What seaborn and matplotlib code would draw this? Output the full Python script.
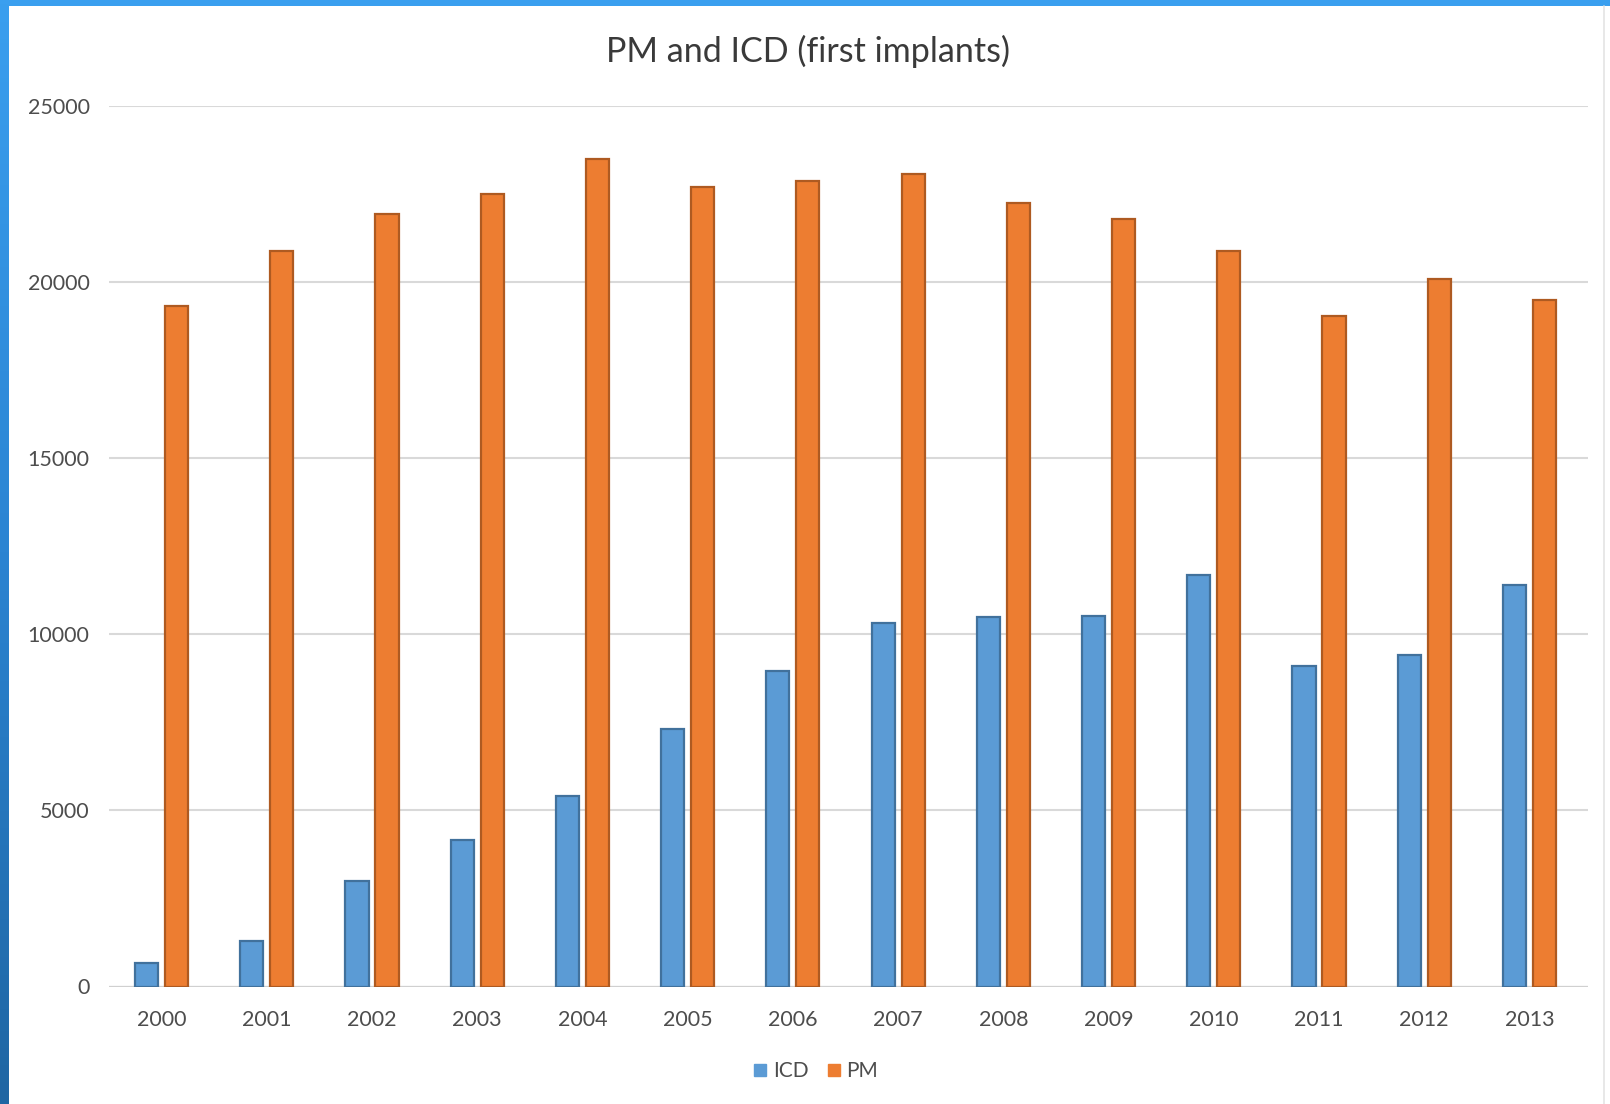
import matplotlib
matplotlib.use("Agg")
import matplotlib.pyplot as plt
from matplotlib.lines import Line2D
import numpy as np
import pandas as pd
import seaborn as sns

# Data: first implants per year
years = ["2000", "2001", "2002", "2003", "2004", "2005", "2006",
         "2007", "2008", "2009", "2010", "2011", "2012", "2013"]
icd = [660, 1280, 3000, 4170, 5400, 7310, 8970,
       10310, 10490, 10520, 11670, 9090, 9400, 11390]
pm = [19320, 20880, 21920, 22510, 23500, 22710, 22860,
      23080, 22250, 21800, 20880, 19030, 20080, 19480]
series = ["ICD", "PM"]
y_ticks = [0, 5000, 10000, 15000, 20000, 25000]
title = "PM and ICD (first implants)"

colors = {"ICD": "#5B9BD5", "PM": "#ED7D31"}
edges = {"ICD": "#41719C", "PM": "#AE5A21"}
text_color = "#4D4D4D"

df = pd.DataFrame({
    "year": years * 2,
    "value": icd + pm,
    "series": ["ICD"] * len(years) + ["PM"] * len(years),
})

sns.set_theme(style="white")
plt.rcParams["font.family"] = ["Lato", "DejaVu Sans"]

W, H = 1610, 1104
fig = plt.figure(figsize=(W / 100, H / 100), dpi=100)
fig.patch.set_facecolor("white")

# plot area: 14 category slots from x=109 to x=1582, gridlines run a little further
slot = (1582 - 109) / len(years)
ax_right = 1588
ax = fig.add_axes([109 / W, 1 - 986.5 / H, (ax_right - 109) / W, (986.5 - 106) / H])
sns.barplot(data=df, x="year", y="value", hue="series", hue_order=series,
            palette=colors, width=0.57, gap=0.23, linewidth=1.6,
            saturation=1, ax=ax, zorder=3)

for cont, name in zip(ax.containers, series):
    for patch in cont:
        patch.set_edgecolor(edges[name])

ax.set_ylim(0, 25000)
ax.set_xlim(-0.5, len(years) - 0.5 + (ax_right - 1582) / slot)
ax.set_yticks(y_ticks)
ax.set_yticklabels([str(t) for t in y_ticks])
ax.yaxis.grid(True, color="#D9D9D9", linewidth=1.5, zorder=0)
ax.set_axisbelow(True)
for s in ax.spines.values():
    s.set_visible(False)
ax.axhline(0, color="#D0D0D0", linewidth=1.6, zorder=2)
ax.set_xlabel("")
ax.set_ylabel("")
ax.tick_params(axis="y", length=0, pad=14, labelsize=15.5, labelcolor=text_color)
ax.tick_params(axis="x", length=0, pad=17, labelsize=15.5, labelcolor=text_color)
if ax.get_legend() is not None:
    ax.get_legend().remove()

fig.text(808 / W, 1 - 51.5 / H, title, ha="center", va="center",
         fontsize=24.5, color="#3A3A3A")

handles = [Line2D([], [], marker="s", linestyle="none", markersize=9,
                  markerfacecolor=colors[n], markeredgecolor=colors[n])
           for n in series]
fig.legend(handles, series, loc="center", bbox_to_anchor=(815 / W, 1 - 1071 / H),
           ncol=2, frameon=False, fontsize=15, labelcolor=text_color,
           handletextpad=0.2, columnspacing=0.8, handlelength=0.8)

# Window frame: blue bar on top, shaded blue bar on the left, grey edge on the right
frame_top = fig.add_axes([0, 1 - 6 / H, 1, 6 / H])
frame_top.set_facecolor("#3A9FEF")
frame_top.set_xticks([]); frame_top.set_yticks([])
for s in frame_top.spines.values():
    s.set_visible(False)

frame_left = fig.add_axes([0, 0, 8 / W, 1])
grad = np.linspace(0, 1, 256).reshape(-1, 1)
cmap = matplotlib.colors.LinearSegmentedColormap.from_list(
    "frame", ["#3A9FEF", "#2B84D2", "#1F66A3"])
frame_left.imshow(grad, aspect="auto", cmap=cmap, extent=[0, 1, 0, 1], origin="upper")
frame_left.set_xticks([]); frame_left.set_yticks([])
for s in frame_left.spines.values():
    s.set_visible(False)

fig.add_artist(Line2D([1604 / W, 1604 / W], [0, 1 - 6 / H], color="#E4E4E4",
                      linewidth=1.2, transform=fig.transFigure))

fig.savefig("out.png", dpi=100, facecolor="white")
